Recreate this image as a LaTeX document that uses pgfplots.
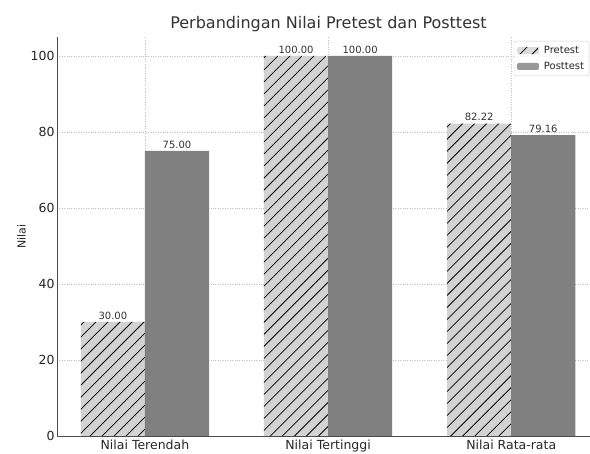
\documentclass[border=0pt]{standalone}
\usepackage{pgfplots}
\pgfplotsset{compat=1.18}
\usepackage{fontspec}
\setmainfont{DejaVu Sans}
\usetikzlibrary{patterns.meta}
\definecolor{pregray}{HTML}{D3D3D3}
\definecolor{postgray}{HTML}{808080}
\definecolor{txtgray}{HTML}{333333}
\begin{document}
\begin{tikzpicture}
\path[use as bounding box] (-57pt,-18pt) rectangle (533pt,436pt);
\begin{axis}[
  scale only axis,
  width=533pt, height=399pt,
  ybar=0pt,
  bar width=0.35,
  xmin=-0.48, xmax=2.43,
  ymin=0, ymax=105,
  xtick={0,1,2},
  xticklabels={Nilai Terendah, Nilai Tertinggi, Nilai Rata-rata},
  ytick={0,20,40,60,80,100},
  axis x line*=bottom, axis y line*=left,
  axis line style={draw=black!70, line width=0.8pt, -},
  tick style={draw=none},
  xmajorgrids, ymajorgrids,
  grid style={dotted, black!25, line width=0.5pt},
  ticklabel style={font=\fontsize{12.5}{14}\selectfont, text=black!85},
  xticklabel style={yshift=3.5pt},
  yticklabel style={xshift=1pt},
  /pgf/number format/assume math mode=true,
  ylabel={Nilai},
  ylabel style={font=\fontsize{11}{13}\selectfont, text=black!85, yshift=-2pt},
  title={Perbandingan Nilai Pretest dan Posttest},
  title style={font=\fontsize{16}{19}\selectfont, text=txtgray, yshift=-4pt, xshift=5pt},
  nodes near coords,
  every node near coord/.append style={font=\fontsize{10}{12}\selectfont, text=txtgray, yshift=-1pt,
    /pgf/number format/fixed, /pgf/number format/precision=2,
    /pgf/number format/fixed zerofill, /pgf/number format/assume math mode=true},
  legend style={at={(0.857,0.99)}, anchor=north west, draw=black!20, rounded corners=2pt,
    font=\fontsize{10}{12}\selectfont, text=black!85, fill=white, fill opacity=0.8, text opacity=1,
    row sep=3pt, column sep=3pt, inner sep=3pt},
  legend cell align=left,
  legend image code/.code={\draw[#1, draw=none] (0pt,-3.5pt) rectangle (22pt,3.5pt);},
]
\addplot[fill=pregray, draw=none,
  postaction={pattern={Lines[angle=45, distance=8.5pt, line width=0.75pt]}, pattern color=black}]
  coordinates {(0,30) (1,100) (2,82.22)};
\addplot[fill=postgray, draw=none]
  coordinates {(0,75) (1,100) (2,79.16)};
\legend{Pretest, Posttest}
\end{axis}
\end{tikzpicture}
\end{document}
